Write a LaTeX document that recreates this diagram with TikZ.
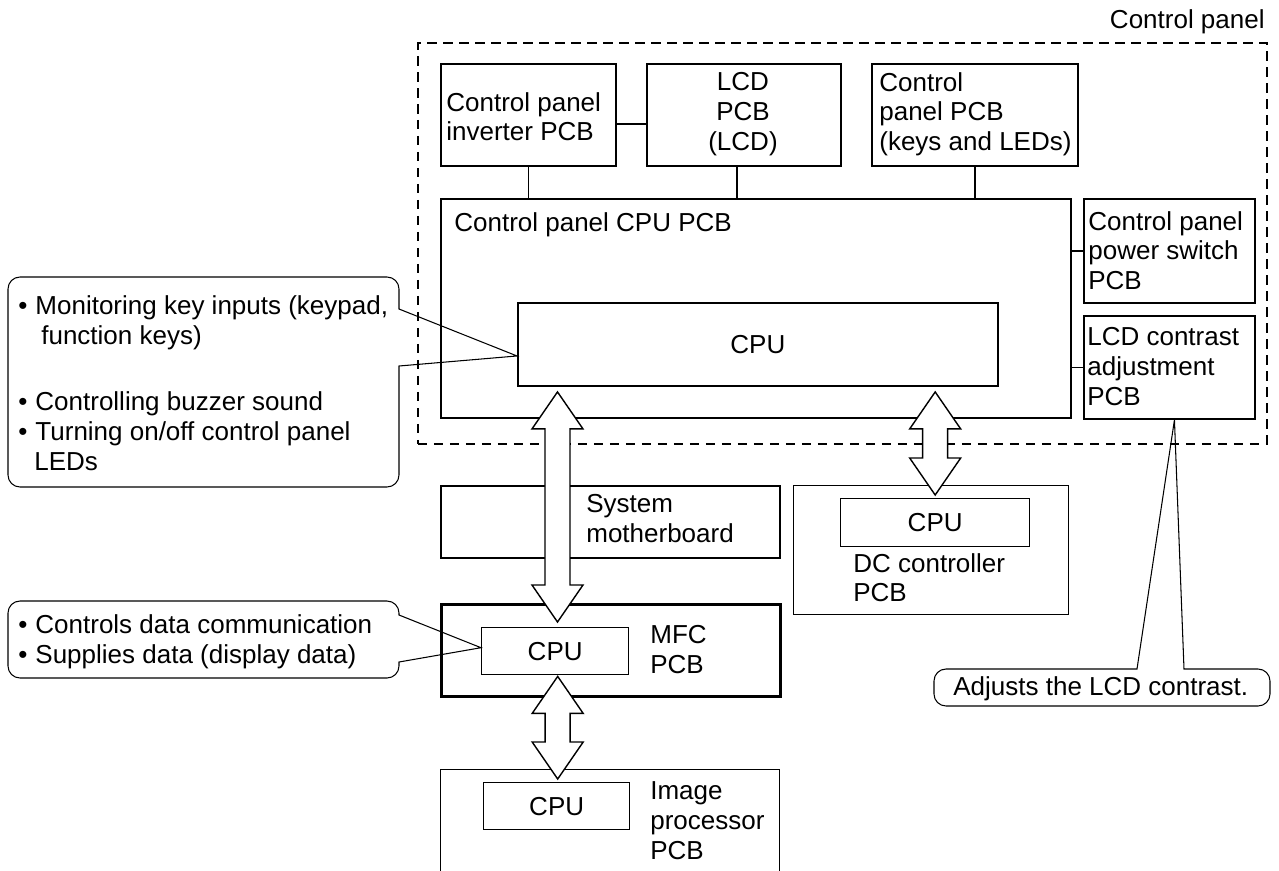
\documentclass[tikz,border=0pt]{standalone}
\usepackage{fontspec}
\setmainfont{Liberation Sans}
\usetikzlibrary{calc}

% hollow double arrow between two points (vertical)
\newcommand{\busarrow}[2]{%
  \draw[bus] let \p1=(#1), \p2=(#2) in
    (\x1,\y1) -- (\x1+\headhalf,\y1-\headlen) -- (\x1+\shafthalf,\y1-\headlen)
    -- (\x1+\shafthalf,\y2+\headlen) -- (\x1+\headhalf,\y2+\headlen) -- (\x1,\y2)
    -- (\x1-\headhalf,\y2+\headlen) -- (\x1-\shafthalf,\y2+\headlen)
    -- (\x1-\shafthalf,\y1-\headlen) -- (\x1-\headhalf,\y1-\headlen) -- cycle;}

\begin{document}
\begin{tikzpicture}[x=0.02cm, y=-0.02cm,
  font=\fontsize{14.8}{17}\selectfont,
  pcb/.style={draw, line width=1.1pt, anchor=north west, inner sep=0pt},
  thinbox/.style={draw, line width=0.6pt, anchor=north west, inner sep=0pt},
  cpubox/.style={draw, line width=0.8pt, anchor=north west, inner sep=0pt},
  panel/.style={draw, line width=1.1pt, dash pattern=on 0.19cm off 0.13cm, anchor=north west, inner sep=0pt},
  wire/.style={line width=0.7pt},
  callout/.style={line width=0.6pt},
  bus/.style={draw, fill=white, line width=0.8pt},
  lbl/.style={inner sep=0pt, anchor=west, align=left, execute at begin node=\strut, execute at end node=\strut}]

\useasboundingbox (0,0) rectangle (1279,870);

% Define the size of the bus arrows
\def\headhalf{0.51cm}
\def\shafthalf{0.25cm}
\def\headlen{0.74cm}

% Draw Control panel frame
\node[panel, minimum width=16.98cm, minimum height=8.02cm] (panel) at (417,42) {};
\node[lbl, anchor=east] (paneltxt) at (1265,23) {Control panel};

% Draw top PCB blocks
\node[pcb, minimum width=3.5cm, minimum height=2.04cm] (inv) at (440,63) {};
\node[pcb, minimum width=3.88cm, minimum height=2.04cm] (lcd) at (646,63) {};
\node[pcb, minimum width=4.12cm, minimum height=2.04cm] (keys) at (871,63) {};
\node[lbl] (invtxt) at (446,121) {Control panel\\inverter PCB};
\node[lbl, align=center, anchor=center] (lcdtxt) at (743,116) {LCD\\PCB\\(LCD)};
\node[lbl] (keystxt) at (879,116) {Control\\panel PCB\\(keys and LEDs)};

% Draw Control panel CPU PCB block
\node[pcb, minimum width=12.6cm, minimum height=4.38cm] (cpupcb) at (440,198) {};
\node[pcb, minimum width=9.6cm, minimum height=1.66cm] (cpu) at (517,302) {CPU};
\node[lbl] (cpupcbtxt) at (454,226) {Control panel CPU PCB};

% Draw side PCB blocks
\node[pcb, minimum width=3.42cm, minimum height=2.08cm] (pwr) at (1083,198) {};
\node[pcb, minimum width=3.42cm, minimum height=2.06cm] (contr) at (1083,315) {};
\node[lbl] (pwrtxt) at (1088,255) {Control panel\\power switch\\PCB};
\node[lbl] (contrtxt) at (1087,371) {LCD contrast\\adjustment\\PCB};

% Connections inside the panel
\draw[wire] ([yshift=-0.18cm]inv.east) -- ([yshift=-0.18cm]lcd.west);
\draw[wire] (inv.south) -- (inv.south |- cpupcb.north);
\draw[wire] ([xshift=-0.14cm]lcd.south) -- ([xshift=-0.14cm]lcd.south |- cpupcb.north);
\draw[wire] (keys.south) -- (keys.south |- cpupcb.north);
\draw[wire] (pwr.west -| cpupcb.east) -- (pwr.west);
\draw[wire] (contr.west -| cpupcb.east) -- (contr.west);

% Draw System motherboard block
\node[pcb, minimum width=6.78cm, minimum height=1.44cm] (mobo) at (440,485) {};
\node[lbl] (mobotxt) at (586,523) {System\\motherboard};

% Draw DC controller block
\node[thinbox, minimum width=5.5cm, minimum height=2.58cm] (dc) at (793,485) {};
\node[cpubox, minimum width=3.78cm, minimum height=0.96cm] (dccpu) at (840,498) {CPU};
\node[lbl] (dctxt) at (853,582) {DC controller\\PCB};

% Draw MFC block
\node[pcb, line width=1.6pt, minimum width=6.78cm, minimum height=1.84cm] (mfc) at (440,603) {};
\node[cpubox, minimum width=2.94cm, minimum height=0.94cm] (mfccpu) at (481,627) {CPU};
\node[lbl] (mfctxt) at (650,654) {MFC\\PCB};

% Draw Image processor block (runs off the page)
\node[thinbox, minimum width=6.78cm, minimum height=2.4cm] (img) at (440,769) {};
\node[cpubox, minimum width=2.92cm, minimum height=0.94cm] (imgcpu) at (483,782) {CPU};
\node[lbl] (imgtxt) at (650,825) {Image\\processor\\PCB};

% Bus arrows
\busarrow{$(cpu.south west)+(0.81cm,-0.1cm)$}{$(mfccpu.north)+(0,0.1cm)$}
\busarrow{$(mfccpu.south)+(0.05cm,-0.02cm)$}{$(imgcpu.north)+(0,0.06cm)$}
\busarrow{$(cpu.south -| dccpu.north)+(0,-0.1cm)$}{$(dccpu.north)+(0,0.06cm)$}

% Callouts
\draw[callout] ([yshift=-0.23cm]cpu.west) -- (399,366) [rounded corners=0.24cm] -- (399,487) -- (8,487) -- (8,277) -- (399,277) [sharp corners] -- (399,309) -- cycle;
\node[lbl, anchor=north west] (note1txt) at (18,295) {•\hspace*{0.16cm}Monitoring key inputs (keypad,\\\hspace*{0.46cm}function keys)\\[21pt]•\hspace*{0.16cm}Controlling buzzer sound\\•\hspace*{0.16cm}Turning on/off control panel\\\hspace*{0.32cm}LEDs};

\draw[callout] ([yshift=0.07cm]mfccpu.west) -- (399,662) [rounded corners=0.24cm] -- (399,678) -- (8,678) -- (8,601) -- (399,601) [sharp corners] -- (399,615) -- cycle;
\node[lbl, anchor=north west] (note2txt) at (18,614) {•\hspace*{0.16cm}Controls data communication\\•\hspace*{0.16cm}Supplies data (display data)};

\draw[callout] ([xshift=0.1cm]contr.south) -- (1184,669) [rounded corners=0.24cm] -- (1270,669) -- (1270,706) -- (934,706) -- (934,669) [sharp corners] -- (1137,669) -- cycle;
\node[lbl] (note3txt) at (953,690) {Adjusts the LCD contrast.};

\end{tikzpicture}
\end{document}
